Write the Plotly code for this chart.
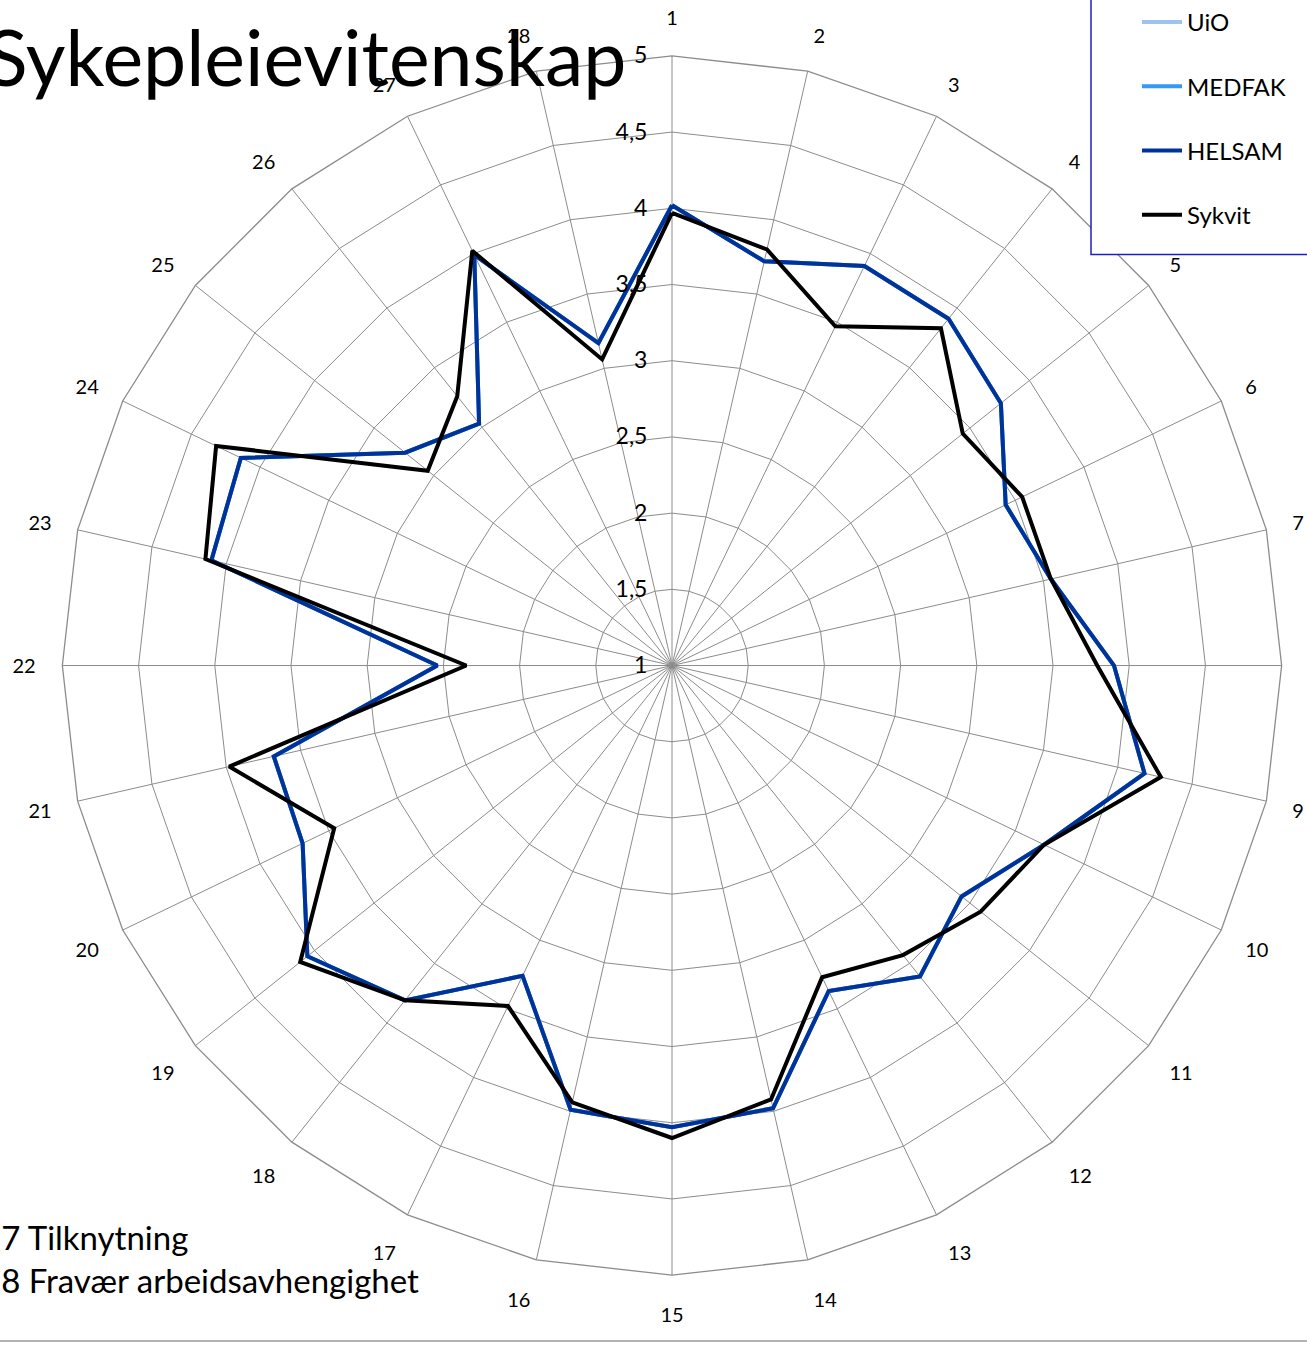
import plotly.graph_objects as go

categories = [str(i) for i in range(1, 29)]

helsam = [4.02, 3.72, 3.91, 3.91, 3.76, 3.43, 3.55, 3.90, 4.18, 3.71,
          3.43, 3.61, 3.37, 3.98, 4.03, 3.99, 3.26, 3.81, 4.06, 3.69,
          3.68, 2.54, 4.10, 4.14, 3.24, 3.03, 3.99, 3.17]
medfak = list(helsam)
uio = list(helsam)
sykvit = [3.97, 3.80, 3.47, 3.83, 3.44, 3.55, 3.55, 3.79, 4.29, 3.71,
          3.59, 3.43, 3.27, 3.92, 4.10, 3.94, 3.48, 3.81, 4.12, 3.46,
          3.98, 2.35, 4.14, 4.32, 3.05, 3.26, 4.02, 3.06]

radial_ticks = [1, 1.5, 2, 2.5, 3, 3.5, 4, 4.5, 5]
radial_labels = ["1", "1,5", "2", "2,5", "3", "3,5", "4", "4,5", "5"]

series = [
    ("UiO", uio, "#9DC3F0"),
    ("MEDFAK", medfak, "#3399F5"),
    ("HELSAM", helsam, "#003399"),
    ("Sykvit", sykvit, "#000000"),
]

FONT = "Lato"

fig = go.Figure()
for i, (name, vals, col) in enumerate(series):
    fig.add_trace(go.Scatterpolar(
        r=vals + vals[:1],
        theta=categories + categories[:1],
        mode="lines",
        name=name,
        legendgroup=name,
        line=dict(color=col, width=4),
    ))

W, H = 1307, 1347
cx, cy, R = 672, 664, 611
fig.update_layout(
    width=W, height=H,
    margin=dict(l=0, r=0, t=0, b=0),
    paper_bgcolor="white",
    plot_bgcolor="white",
    font=dict(family=FONT, color="#000000", size=20),
    polar=dict(
        domain=dict(x=[(cx - R) / W, (cx + R) / W],
                    y=[(H - cy - R) / H, (H - cy + R) / H]),
        bgcolor="white",
        gridshape="linear",
        angularaxis=dict(
            direction="clockwise",
            rotation=90,
            type="category",
            showline=True,
            linecolor="#8c8c8c",
            linewidth=1.3,
            gridcolor="#8c8c8c",
            gridwidth=1.3,
            ticks="outside",
            ticklen=22,
            tickcolor="rgba(0,0,0,0)",
            tickfont=dict(size=20, family=FONT, color="#000000"),
        ),
        radialaxis=dict(
            range=[1, 5],
            angle=90,
            side="counterclockwise",
            tickvals=radial_ticks,
            ticktext=radial_labels,
            tickangle=90,
            showline=False,
            gridcolor="#8c8c8c",
            gridwidth=1.3,
            ticks="outside",
            ticklen=16,
            tickcolor="rgba(0,0,0,0)",
            tickfont=dict(size=23, family=FONT, color="#000000"),
        ),
    ),
    showlegend=True,
    legend=dict(
        x=1137 / W, xanchor="left",
        y=(H + 3) / H, yanchor="top",
        borderwidth=0,
        bgcolor="rgba(0,0,0,0)",
        font=dict(size=24, family=FONT, color="#000000"),
        tracegroupgap=30,
        itemwidth=40,
    ),
    annotations=[
        dict(text="Sykepleievitenskap", xref="paper", yref="paper",
             x=-16 / W, y=(H - 101) / H, xanchor="left", yanchor="bottom",
             showarrow=False, font=dict(size=77, family=FONT, color="#000000")),
        dict(text="27 Tilknytning<br>28 Fravær arbeidsavhengighet",
             xref="paper", yref="paper", align="left",
             x=-20 / W, y=(H - 1302) / H, xanchor="left", yanchor="bottom",
             showarrow=False, font=dict(size=33, family=FONT, color="#000000")),
    ],
    shapes=[
        dict(type="rect", xref="paper", yref="paper", layer="above",
             x0=1091 / W, x1=(W + 10) / W, y0=(H - 252) / H, y1=(H + 10) / H,
             fillcolor="white", line=dict(color="#1f1fbf", width=1.5)),
        dict(type="line", xref="paper", yref="paper",
             x0=0, x1=1, y0=(H - 1341) / H, y1=(H - 1341) / H,
             line=dict(color="#9a9a9a", width=1.5)),
    ],
)

fig.write_html("out.html",
               config={"displayModeBar": False},
               post_script="document.body.style.margin='0';document.body.style.overflow='hidden';")
